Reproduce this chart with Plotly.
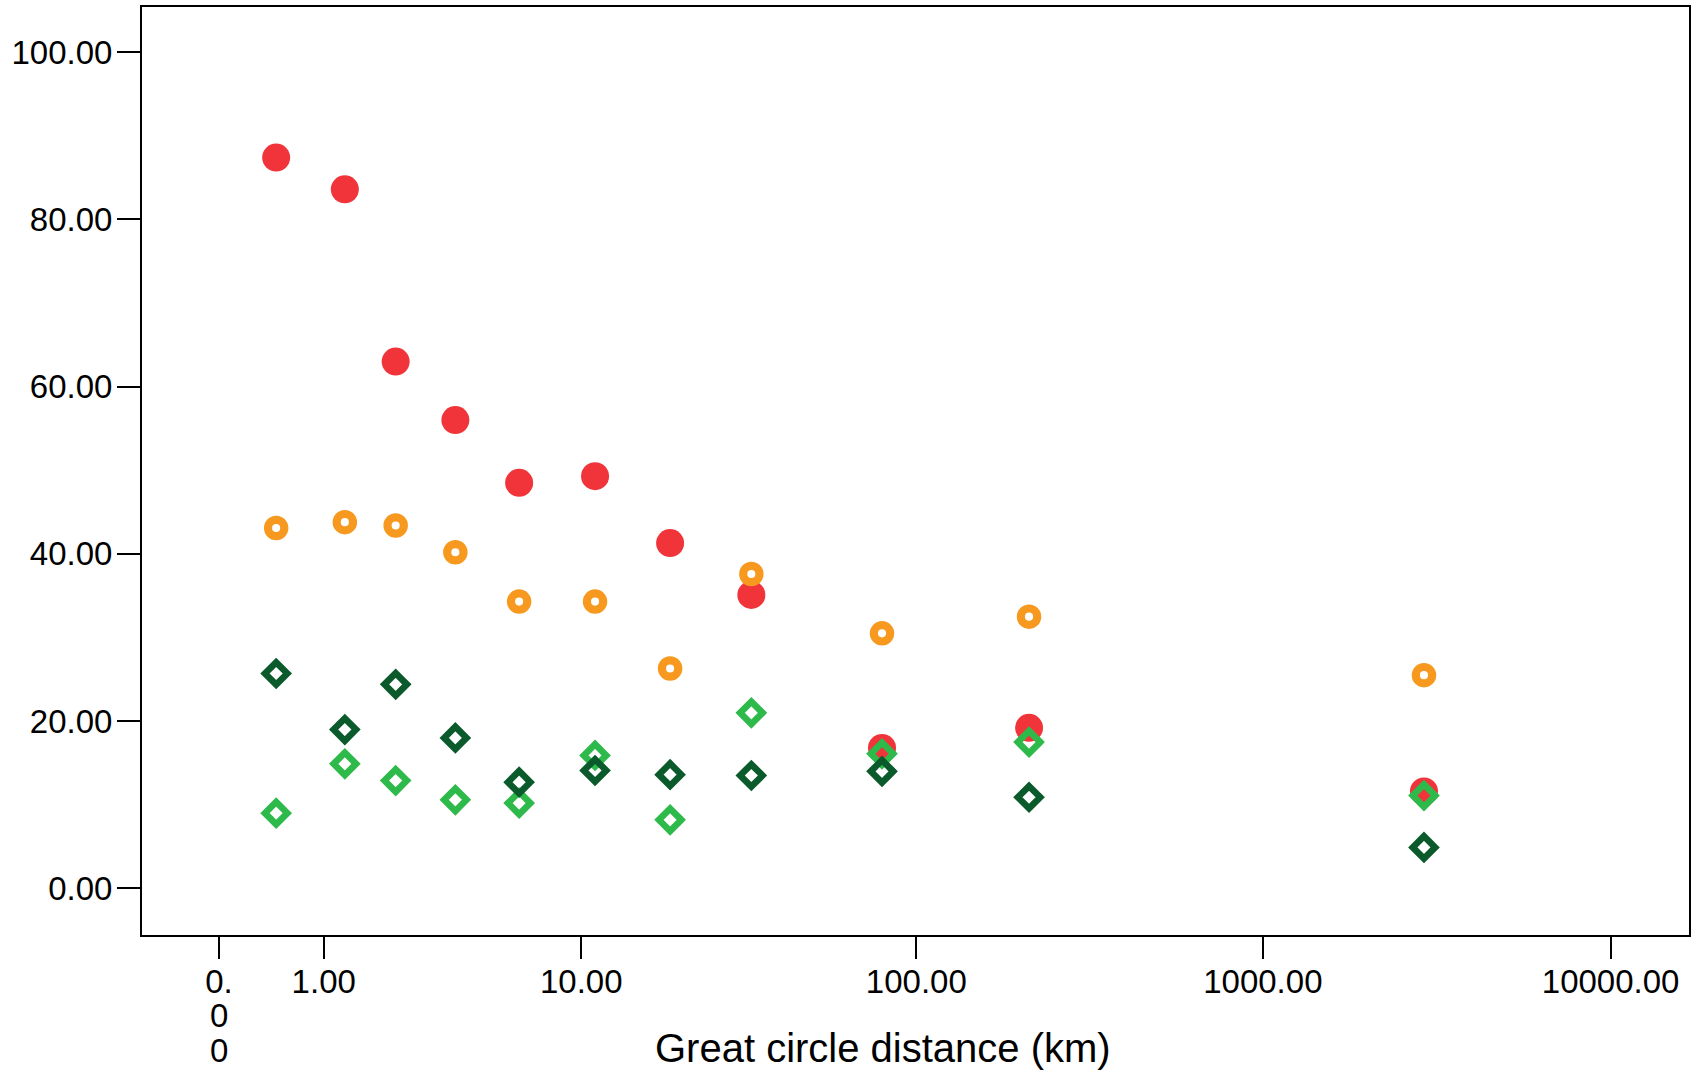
import plotly.graph_objects as go

# Great circle distance (km) for each distance bin
distance_km = [0.46, 1.30, 2.22, 3.78, 6.29, 11.05, 18.8, 32.9, 79.5, 212, 2907]

# Series values (percent)
red_vals = [87.4, 83.6, 63.0, 56.0, 48.5, 49.3, 41.3, 35.1, 16.8, 19.2, 11.6]
orange_vals = [43.1, 43.8, 43.4, 40.2, 34.3, 34.3, 26.3, 37.6, 30.5, 32.5, 25.5]
dark_green_vals = [25.7, 19.0, 24.4, 18.0, 12.7, 14.1, 13.6, 13.5, 14.0, 10.9, 4.9]
light_green_vals = [9.0, 14.9, 12.9, 10.6, 10.2, 15.9, 8.2, 21.0, 16.1, 17.5, 11.1]

# Axis ticks
x_tick_values = [0, 1, 10, 100, 1000, 10000]
x_tick_labels = ["0.", "1.00", "10.00", "100.00", "1000.00", "10000.00"]
zero_label_wrap = ["0", "0"]
y_tick_values = [0, 20, 40, 60, 80, 100]

RED = "#F0343A"
ORANGE = "#F7991F"
DARK_GREEN = "#0B5A2B"
LIGHT_GREEN = "#2EBA4A"
FONT = "Liberation Sans, Arial, sans-serif"

# safe-log style axis: position ~ log10(distance + 1)
xs = [d + 1 for d in distance_km]

fig = go.Figure()
fig.add_trace(go.Scatter(x=xs, y=red_vals, mode="markers",
                         marker=dict(symbol="circle", size=28, color=RED, line=dict(width=0))))
fig.add_trace(go.Scatter(x=xs, y=orange_vals, mode="markers",
                         marker=dict(symbol="circle-open", size=16.3, color=ORANGE,
                                     line=dict(width=8.2, color=ORANGE))))
fig.add_trace(go.Scatter(x=xs, y=light_green_vals, mode="markers",
                         marker=dict(symbol="diamond-open", size=17.2, color=LIGHT_GREEN,
                                     line=dict(width=6.6, color=LIGHT_GREEN))))
fig.add_trace(go.Scatter(x=xs, y=dark_green_vals, mode="markers",
                         marker=dict(symbol="diamond-open", size=17.2, color=DARK_GREEN,
                                     line=dict(width=6.6, color=DARK_GREEN))))

fig.update_layout(
    width=1698, height=1073,
    margin=dict(l=142, r=9, t=5, b=138),
    paper_bgcolor="white", plot_bgcolor="white",
    showlegend=False,
    font=dict(family=FONT, size=33, color="black"),
)

fig.update_xaxes(
    type="log",
    range=[-0.2213, 4.2254],
    tickmode="array",
    tickvals=[t + 1 for t in x_tick_values],
    ticktext=x_tick_labels,
    ticks="outside", ticklen=22, tickwidth=2, tickcolor="black",
    showline=True, linewidth=2, linecolor="black", mirror=True,
    showgrid=False, zeroline=False,
    ticklabelstandoff=-6,
    tickfont=dict(family=FONT, size=33, color="black"),
)
fig.update_yaxes(
    range=[-5.57, 105.4],
    tickmode="array",
    tickvals=y_tick_values,
    tickformat=".2f",
    ticks="outside", ticklen=23, tickwidth=2, tickcolor="black",
    showline=True, linewidth=2, linecolor="black", mirror=True,
    showgrid=False, zeroline=False,
    ticklabelstandoff=-2,
    tickfont=dict(family=FONT, size=33, color="black"),
)

# wrapped remainder of the "0.00" tick label
for i, ch in enumerate(zero_label_wrap):
    fig.add_annotation(x=0, xref="x", y=-(1016 + 35 * i - 935) / 930, yref="paper",
                       text=ch, showarrow=False, xanchor="center", yanchor="middle",
                       font=dict(family=FONT, size=33, color="black"))

fig.add_annotation(x=(882.5 - 142) / 1547, xref="paper", y=-(1048 - 935) / 930, yref="paper",
                   text="Great circle distance (km)", showarrow=False,
                   xanchor="center", yanchor="middle",
                   font=dict(family=FONT, size=40, color="black"))

fig.write_html("out.html")
